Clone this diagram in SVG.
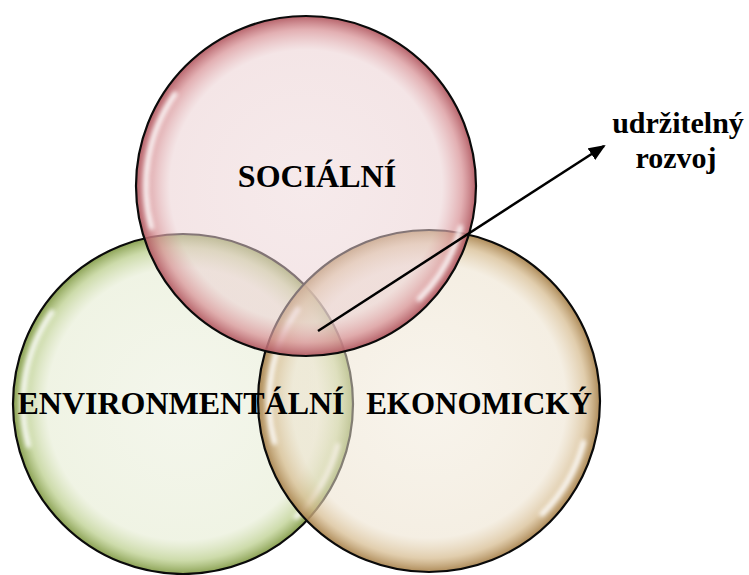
<svg xmlns="http://www.w3.org/2000/svg" width="749" height="575" viewBox="0 0 749 575">
  <defs>
    <radialGradient id="gPink" cx="50%" cy="50%" r="50%">
      <stop offset="0%" stop-color="#edd5d7" stop-opacity="0.5"/>
      <stop offset="80%" stop-color="#ebd0d2" stop-opacity="0.55"/>
      <stop offset="92%" stop-color="#d99599" stop-opacity="0.75"/>
      <stop offset="100%" stop-color="#b25a62" stop-opacity="0.95"/>
    </radialGradient>
    <radialGradient id="gGreen" cx="50%" cy="50%" r="50%">
      <stop offset="0%" stop-color="#e9edd9" stop-opacity="0.5"/>
      <stop offset="80%" stop-color="#e3eace" stop-opacity="0.55"/>
      <stop offset="92%" stop-color="#bccf8e" stop-opacity="0.75"/>
      <stop offset="100%" stop-color="#849c4a" stop-opacity="0.95"/>
    </radialGradient>
    <radialGradient id="gBeige" cx="50%" cy="50%" r="50%">
      <stop offset="0%" stop-color="#f1e9d9" stop-opacity="0.5"/>
      <stop offset="80%" stop-color="#ece1cc" stop-opacity="0.55"/>
      <stop offset="92%" stop-color="#d7bd92" stop-opacity="0.75"/>
      <stop offset="100%" stop-color="#a9844f" stop-opacity="0.95"/>
    </radialGradient>
    <filter id="blur" x="-20%" y="-20%" width="140%" height="140%">
      <feGaussianBlur stdDeviation="2"/>
    </filter>
    <marker id="arrow" markerWidth="17" markerHeight="14" refX="15" refY="7" orient="auto" markerUnits="userSpaceOnUse" viewBox="0 0 17 14">
      <path d="M0,0 L17,7 L0,14 Z" fill="#000"/>
    </marker>
  </defs>
  <style>
    .ring { stroke: #0a0a0a; stroke-width: 2.2; }
    .hl { fill: none; stroke: #ffffff; stroke-width: 5; stroke-linecap: round; opacity: 0.9; filter: url(#blur); }
    .lbl { font-weight: bold; fill: #000; }
    .conn { stroke: #000; stroke-width: 2.5; fill: none; }
  </style>
  <rect width="749" height="575" fill="#ffffff"/>

  <g id="node-environmentalni" transform="translate(183,404)">
    <circle r="170" fill="url(#gGreen)" class="ring"/>
    <path class="hl" d="M -154.5 41.4 A 160 160 0 0 1 -131.1 -91.8"/>
    <path class="hl" d="M 154.5 41.4 A 160 160 0 0 1 113.1 113.1"/>
  </g>

  <g id="node-ekonomicky" transform="translate(429,401)">
    <circle r="171" fill="url(#gBeige)" class="ring"/>
    <path class="hl" d="M -154.5 41.4 A 160 160 0 0 1 -131.1 -91.8"/>
    <path class="hl" d="M 154.5 41.4 A 160 160 0 0 1 113.1 113.1"/>
  </g>

  <g id="node-socialni" transform="translate(306,186)">
    <circle r="170" fill="url(#gPink)" class="ring"/>
    <path class="hl" d="M -154.5 41.4 A 160 160 0 0 1 -131.1 -91.8"/>
    <path class="hl" d="M 154.5 41.4 A 160 160 0 0 1 113.1 113.1"/>
  </g>

  <g id="labels" font-family="'Liberation Serif', 'Times New Roman', serif">
    <text class="lbl" x="317" y="187" font-size="32" text-anchor="middle">SOCIÁLNÍ</text>
    <text class="lbl" x="181" y="414" font-size="32" text-anchor="middle">ENVIRONMENTÁLNÍ</text>
    <text class="lbl" x="479" y="414" font-size="31" text-anchor="middle">EKONOMICKÝ</text>
  </g>

  <g id="node-udrzitelny-rozvoj" font-family="'Liberation Serif', 'Times New Roman', serif">
    <text class="lbl" x="678" y="133" font-size="30" text-anchor="middle">udržitelný</text>
    <text class="lbl" x="676" y="168" font-size="30" text-anchor="middle">rozvoj</text>
  </g>

  <g id="connectors">
    <line class="conn" x1="318" y1="331" x2="604" y2="146" marker-end="url(#arrow)"/>
  </g>
</svg>
